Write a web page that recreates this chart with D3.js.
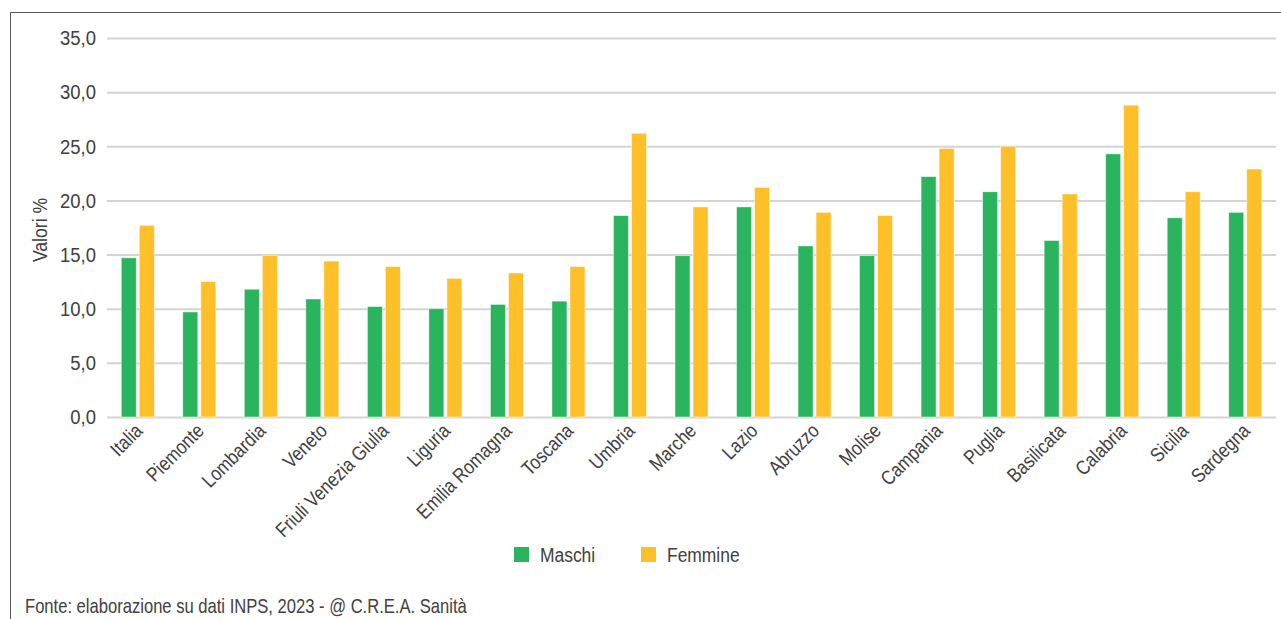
<!DOCTYPE html>
<html><head><meta charset="utf-8">
<script src="https://cdn.jsdelivr.net/npm/d3@7"></script>
<style>
body{margin:0;background:#fff;}
svg{display:block;}
text{font-family:"Liberation Sans Narrow","Liberation Sans",Arial,sans-serif;fill:#404040;}
</style></head>
<body>
<svg id="chart" width="1281" height="619"></svg>
<script>
const categories = ["Italia","Piemonte","Lombardia","Veneto","Friuli Venezia Giulia","Liguria","Emilia Romagna","Toscana","Umbria","Marche","Lazio","Abruzzo","Molise","Campania","Puglia","Basilicata","Calabria","Sicilia","Sardegna"];
const maschi  = [14.7, 9.7, 11.8, 10.9, 10.2, 10.0, 10.4, 10.7, 18.6, 14.9, 19.4, 15.8, 14.9, 22.2, 20.8, 16.3, 24.3, 18.4, 18.9];
const femmine = [17.7, 12.5, 14.9, 14.4, 13.9, 12.8, 13.3, 13.9, 26.2, 19.4, 21.2, 18.9, 18.6, 24.8, 25.0, 20.6, 28.8, 20.8, 22.9];
const seriesNames = ["Maschi","Femmine"];
const seriesColors = ["#2bb45e","#fec028"];
const yTicks = [0,5,10,15,20,25,30,35];
const yTitle = "Valori %";
const source = "Fonte: elaborazione su dati INPS, 2023 - @ C.R.E.A. Sanità";

const svg = d3.select("#chart");
const mLeft = 107, mRight = 1276, mTop = 38, mBottom = 417;
const narrow = 0.85;

// frame
svg.append("path").attr("d","M10.5,619 L10.5,12.5 L1281,12.5").attr("fill","none").attr("stroke","#555").attr("stroke-width",1);

const x0 = d3.scaleBand().domain(categories).range([mLeft,mRight]).paddingInner(0).paddingOuter(0);
const x1 = d3.scaleBand().domain(seriesNames).range([0,x0.bandwidth()]).paddingInner(0.1667).paddingOuter(0.79);
const y = d3.scaleLinear().domain([0,35]).range([mBottom,mTop]);

// grid
const yAxis = d3.axisLeft(y).tickValues(yTicks).tickSize(-(mRight-mLeft)).tickPadding(11)
  .tickFormat(d => d3.format(".1f")(d).replace(".",","));
const gy = svg.append("g").attr("transform",`translate(${mLeft},0)`).call(yAxis);
gy.select(".domain").remove();
gy.selectAll(".tick line").attr("stroke","#d4d4d4").attr("stroke-width",2);
gy.selectAll(".tick text").attr("font-size",21).style("fill","#404040")
  .attr("font-family","Liberation Sans Narrow, Liberation Sans, sans-serif")
  .attr("x",0).attr("transform","translate(-11,0) scale(0.88,1)");

// bars
const rows = categories.map((c,i)=>({cat:c, vals:[maschi[i],femmine[i]]}));
const groups = svg.append("g").selectAll("g").data(rows).join("g")
  .attr("transform", d=>`translate(${x0(d.cat)},0)`);
groups.selectAll("rect").data(d=>d.vals.map((v,j)=>({s:seriesNames[j],v,j}))).join("rect")
  .attr("x", d=>x1(d.s)).attr("width", x1.bandwidth())
  .attr("y", d=>y(d.v)).attr("height", d=>y(0)-y(d.v))
  .attr("fill", d=>seriesColors[d.j]).attr("stroke","#fff").attr("stroke-opacity",0.6).attr("stroke-width",0.8);

// x labels
const xAxis = d3.axisBottom(x0).tickSize(0).tickPadding(0);
const gx = svg.append("g").attr("transform",`translate(0,${mBottom})`).call(xAxis);
gx.select(".domain").remove();
gx.selectAll(".tick text").attr("font-size",20).style("fill","#404040")
  .attr("font-family","Liberation Sans Narrow, Liberation Sans, sans-serif")
  .attr("text-anchor","end").attr("dy",null).attr("y",0)
  .attr("transform",`translate(6,15) rotate(-45) scale(${narrow},1)`);

// y title
svg.append("text").attr("transform",`translate(47,230) rotate(-90) scale(0.88,1)`)
  .attr("text-anchor","middle").attr("font-size",20).text(yTitle);

// legend
const lx = [514, 641];
seriesNames.forEach((s,i)=>{
  svg.append("rect").attr("x",lx[i]).attr("y",547).attr("width",15).attr("height",15).attr("fill",seriesColors[i]);
  svg.append("text").attr("transform",`translate(${lx[i]+26},562) scale(0.83,1)`).attr("font-size",21).text(s);
});

// source
svg.append("text").attr("transform","translate(25,613) scale(0.83,1)").attr("font-size",20).text(source);
</script>
</body></html>
